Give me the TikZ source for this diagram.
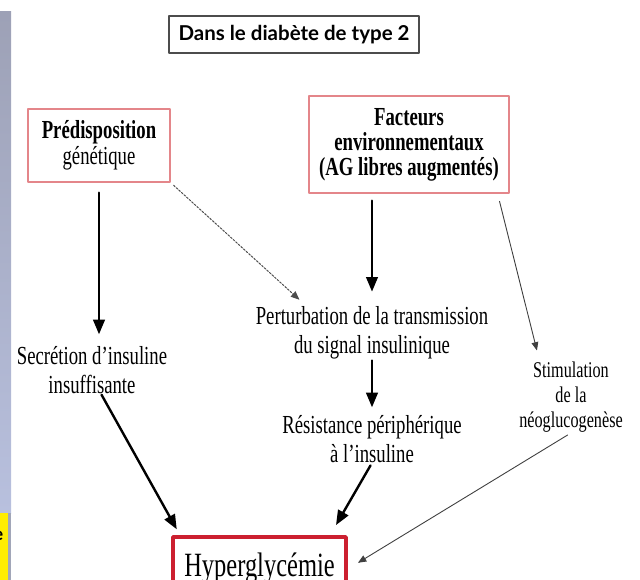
\documentclass[tikz,border=0pt]{standalone}
\usepackage{fontspec}
\setmainfont[FakeStretch=0.72]{Liberation Serif}
\newfontfamily\titlefont{Lato}
\usetikzlibrary{arrows}
\usetikzlibrary{calc}
\definecolor{bande}{HTML}{9DA1B6}
\definecolor{bandeclair}{HTML}{B8C0DE}
\definecolor{rose}{HTML}{E4868A}
\definecolor{rouge}{HTML}{CC2030}

\begin{document}
\begin{tikzpicture}[line cap=round,line join=round,>=triangle 45,x=1pt,y=-1pt,
  txt/.style={align=center,inner sep=0pt,font=\fontsize{26}{29}\selectfont},
  redbox/.style={draw=rose,line width=1.3pt,align=center,font=\fontsize{26}{26}\selectfont},
  fat/.style={->,line width=2.4pt},
  fine/.style={->,line width=0.9pt,black!75},
  pointille/.style={->,line width=1pt,black!70,dash pattern=on 2pt off 1.5pt}]
\useasboundingbox (0,0) rectangle (640,580);
\shade[top color=bande,bottom color=bandeclair] (0,12) rectangle (11,513);
\fill[bandeclair!60!gray] (0,513) rectangle (11,580);
\fill[yellow!95!orange] (0,513) rectangle (7.5,580);
\begin{scope}
\clip (0,513) rectangle (7.5,580);
\node[anchor=east,inner sep=0pt,font=\titlefont\bfseries\fontsize{18}{20}\selectfont] (bout) at (3.5,536) {e};
\end{scope}
\node[draw=black!70,line width=1.2pt,minimum width=250,minimum height=37,font=\titlefont\bfseries\fontsize{20.5}{22}\selectfont] (titre) at (294,34.5) {Dans le diabète de type 2};
\node[redbox,minimum width=142,minimum height=73,text depth=6pt] (pred) at (99,145.5) {\textbf{Prédisposition}\\génétique};
\node[redbox,minimum width=200,minimum height=97,font=\bfseries\fontsize{26}{25}\selectfont] (fact) at (409,144.5) {Facteurs\\environnementaux\\(AG libres augmentés)};
\node[txt] (secr) at (92,370) {Secrétion d’insuline\\insuffisante};
\node[txt] (pert) at (372,333) {Perturbation de la transmission\\du signal insulinique};
\node[txt] (resi) at (372,439) {Résistance périphérique\\à l’insuline};
\node[txt,font=\fontsize{22.5}{25}\selectfont] (stim) at (571,397.5) {Stimulation\\de la\\néoglucogenèse};
\node[draw=rouge,line width=3.5pt,minimum width=173,minimum height=64,text height=22pt,text depth=8pt,font=\fontsize{34}{36}\selectfont] (hyper) at (259.5,569) {Hyperglycémie};
\draw[fat,shorten <=10pt,shorten >=12pt] (pred.south) -- (pred.south |- secr.north);
\draw[pointille,shorten <=4pt,shorten >=10pt] (pred.south east) -- ($(pert.north west)!0.22!(pert.north east)$);
\draw[fat,shorten <=7pt,shorten >=15pt] (fact.south -| pert.north) -- (pert.north);
\draw[fat,shorten <=1pt,shorten >=8pt] (pert.south) -- (resi.north);
\draw[fine,shorten <=8pt,shorten >=12pt] ($(fact.south)!0.88!(fact.south east)$) -- ($(stim.north west)!0.2!(stim.north east)$);
\draw[fat,shorten <=1pt,shorten >=7pt] ($(secr.south west)!0.56!(secr.south east)$) -- ($(hyper.north west)!0.05!(hyper.north east)$);
\draw[fat,shorten <=3pt,shorten >=12pt] (resi.south) -- ($(hyper.north west)!0.9!(hyper.north east)$);
\draw[fine,shorten <=4pt,shorten >=12pt] (stim.south) -- (hyper.east);
\end{tikzpicture}
\end{document}
